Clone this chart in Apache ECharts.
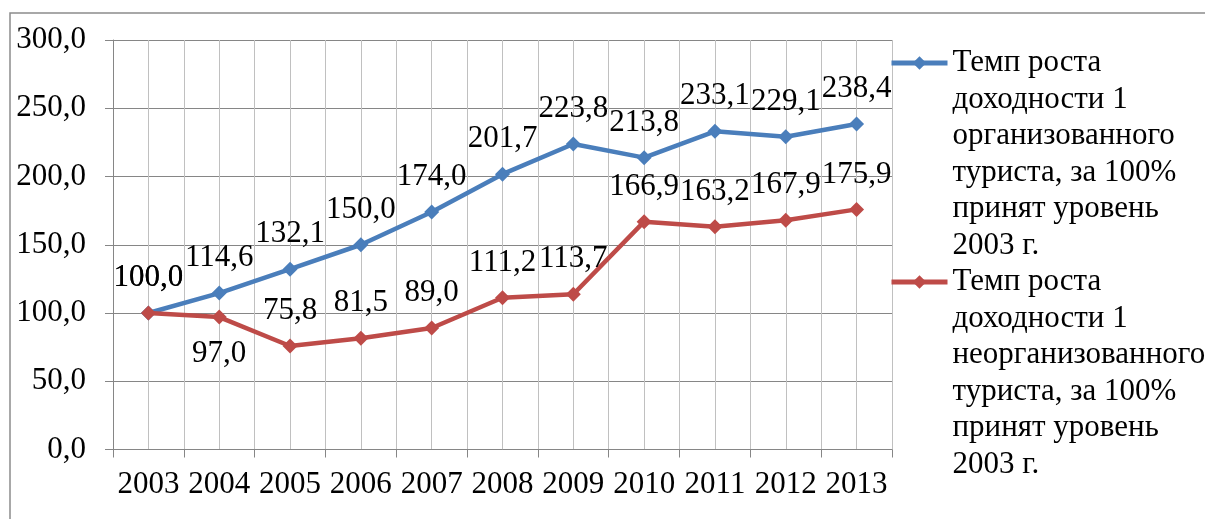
<!DOCTYPE html>
<html>
<head>
<meta charset="utf-8">
<script src="https://cdn.jsdelivr.net/npm/echarts@6/dist/echarts.min.js"></script>
<style>
  html, body { margin: 0; padding: 0; background: #fff; }
</style>
</head>
<body>
<div id="chart" style="width:1205px;height:519px;"></div>
<script>
var years = ['2003', '2004', '2005', '2006', '2007', '2008', '2009', '2010', '2011', '2012', '2013'];
var organized = [100.0, 114.6, 132.1, 150.0, 174.0, 201.7, 223.8, 213.8, 233.1, 229.1, 238.4];
var unorganized = [100.0, 97.0, 75.8, 81.5, 89.0, 111.2, 113.7, 166.9, 163.2, 167.9, 175.9];
var organizedLines = ['Темп роста', 'доходности 1', 'организованного', 'туриста, за 100%', 'принят уровень', '2003 г.'];
var unorganizedLines = ['Темп роста', 'доходности 1', 'неорганизованного', 'туриста, за 100%', 'принят уровень', '2003 г.'];

var font = '"Liberation Serif", "Times New Roman", serif';
var fmt = function (v) { return Number(v).toFixed(1).replace('.', ','); };
var nameOrg = organizedLines.join(' ');
var nameUnorg = unorganizedLines.join(' ');
var lineH = 36.5;
// legend text is centred on its icon, so pad with blank lines above
// to keep the icon level with the first line
var pad = '\n\n\n\n\n';

var chart = echarts.init(document.getElementById('chart'));
var option = {
    animation: false,
    backgroundColor: '#fff',
    textStyle: { fontFamily: font },
    graphic: [{
        type: 'rect',
        shape: { x: 10, y: 13, width: 1400, height: 700 },
        style: { fill: 'none', stroke: '#8c8c8c', lineWidth: 1.5 },
        silent: true
    }],
    grid: { left: 113, right: 313, top: 40, bottom: 69.5 },
    legend: {
        orient: 'vertical',
        left: 884,
        top: 58 - (lineH * 11) / 2,
        itemWidth: 56,
        itemHeight: 17,
        itemGap: -(lineH * 5),
        data: [nameOrg, nameUnorg],
        lineStyle: { width: 5 },
        formatter: function (name) {
            return pad + (name === nameOrg ? organizedLines : unorganizedLines).join('\n');
        },
        textStyle: {
            fontFamily: font,
            fontSize: 31,
            lineHeight: lineH,
            color: '#000'
        }
    },
    xAxis: [{
        type: 'category',
        data: years,
        boundaryGap: true,
        axisLine: { lineStyle: { color: '#868686', width: 1 } },
        axisTick: { show: true, length: 8, lineStyle: { color: '#868686' } },
        axisLabel: { color: '#000', fontSize: 31, fontFamily: font, margin: 20, interval: 0 },
        splitLine: { show: false }
    }, {
        type: 'value',
        min: 0,
        max: 22,
        interval: 1,
        position: 'top',
        axisLine: { show: false },
        axisTick: { show: false },
        axisLabel: { show: false },
        splitLine: { show: true, lineStyle: { color: '#c0c0c0', width: 1 } }
    }],
    yAxis: {
        type: 'value',
        min: 0,
        max: 300,
        interval: 50,
        axisLine: { show: true, lineStyle: { color: '#868686', width: 1 } },
        axisTick: { show: true, length: 8, lineStyle: { color: '#868686' } },
        axisLabel: { color: '#000', fontSize: 31, fontFamily: font, margin: 27, formatter: fmt },
        splitLine: { show: true, lineStyle: { color: '#868686', width: 1 } }
    },
    series: [{
        name: nameOrg,
        type: 'line',
        data: organized,
        color: '#4A7EBB',
        symbol: 'diamond',
        symbolSize: 15,
        lineStyle: { width: 4.5, color: '#4A7EBB' },
        itemStyle: { color: '#4A7EBB' },
        label: {
            show: true, position: 'top', distance: 12,
            color: '#000', fontSize: 31, fontFamily: font,
            formatter: function (p) { return fmt(p.value); }
        },
        z: 3
    }, {
        name: nameUnorg,
        type: 'line',
        data: unorganized.map(function (v, i) {
            return i === 1 ? { value: v, label: { position: 'bottom', distance: 14 } } : v;
        }),
        color: '#BE4B48',
        symbol: 'diamond',
        symbolSize: 15,
        lineStyle: { width: 4.5, color: '#BE4B48' },
        itemStyle: { color: '#BE4B48' },
        label: {
            show: true, position: 'top', distance: 12,
            color: '#000', fontSize: 31, fontFamily: font,
            formatter: function (p) { return fmt(p.value); }
        },
        z: 4
    }]
};
option && chart.setOption(option);
</script>
</body>
</html>
